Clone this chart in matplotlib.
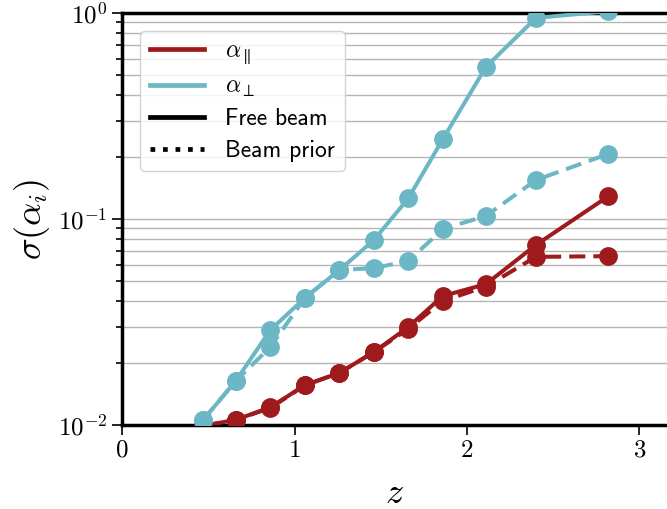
import matplotlib
matplotlib.use("Agg")
import matplotlib.pyplot as plt
from matplotlib.lines import Line2D
from matplotlib.ticker import LogLocator, NullFormatter

plt.rcParams['font.family'] = ['cmr10', 'DejaVu Serif']
plt.rcParams['mathtext.fontset'] = 'cm'
plt.rcParams['axes.formatter.use_mathtext'] = True

z = [0.47, 0.66, 0.86, 1.06, 1.26, 1.46, 1.66, 1.86, 2.11, 2.40, 2.82]
par_free = [0.0099, 0.0106, 0.0122, 0.0156, 0.0179, 0.0226, 0.0299, 0.0423, 0.0483, 0.0748, 0.129]
par_prior = [0.0099, 0.0106, 0.0121, 0.0156, 0.0179, 0.0226, 0.0293, 0.0400, 0.0470, 0.0655, 0.0660]
perp_free = [0.01057, 0.0164, 0.0289, 0.0414, 0.0565, 0.079, 0.126, 0.244, 0.547, 0.946, 1.02]
perp_prior = [0.01057, 0.0164, 0.0239, 0.0414, 0.0565, 0.0578, 0.0625, 0.0894, 0.1035, 0.1545, 0.207]

red = '#9e1a1c'
cyan = '#6cb7c5'

fig = plt.figure(figsize=(6.67, 5.09), dpi=100)
ax = fig.add_axes([0.183, 0.165, 0.817, 0.8095])

lw = 2.9
ms = 12.5
ax.plot(z, par_free, '-', color=red, lw=lw, marker='o', ms=ms, zorder=3)
ax.plot(z, par_prior, '--', color=red, lw=lw, marker='o', ms=ms, dashes=(4, 2), zorder=3)
ax.plot(z, perp_free, '-', color=cyan, lw=lw, marker='o', ms=ms, zorder=3)
ax.plot(z, perp_prior, '--', color=cyan, lw=lw, marker='o', ms=ms, dashes=(4, 2), zorder=3)

ax.set_yscale('log')
ax.set_ylim(1e-2, 1)
ax.set_xlim(0, 3.16)
ax.set_xticks([0, 1, 2, 3])
ax.yaxis.set_minor_locator(LogLocator(base=10, subs=range(2, 10)))
ax.yaxis.set_minor_formatter(NullFormatter())
ax.grid(True, which='both', axis='y', color='#b5b5b5', lw=1.0, zorder=0)
ax.set_axisbelow(True)

for s in ['left', 'top', 'bottom']:
    ax.spines[s].set_linewidth(2.5)
ax.spines['right'].set_visible(False)

ax.tick_params(axis='both', which='major', labelsize=18, width=1.2, length=7, direction='out')
ax.tick_params(axis='y', which='minor', width=1.2, length=4, direction='out')
ax.tick_params(axis='x', which='minor', bottom=False)

ax.set_xlabel(r'$z$', fontsize=26, labelpad=12)
ax.set_ylabel(r'$\sigma(\alpha_i)$', fontsize=26, labelpad=4)

handles = [
    Line2D([], [], color=red, lw=3.4),
    Line2D([], [], color=cyan, lw=3.4),
    Line2D([], [], color='black', lw=3.4),
    Line2D([], [], color='black', lw=3.4, ls=':'),
]
labels = [r'$\alpha_{\parallel}$', r'$\alpha_{\perp}$', 'Free beam', 'Beam prior']
leg = ax.legend(handles, labels, loc='upper left', bbox_to_anchor=(0.012, 0.985),
                prop={'family': ['cmss10', 'DejaVu Sans'], 'size': 17},
                handlelength=2.3, handletextpad=0.9, framealpha=0.85, edgecolor='#cccccc',
                fancybox=True, labelspacing=0.4, borderpad=0.4)
leg.get_frame().set_linewidth(1.0)

fig.savefig('out.png', dpi=100)
